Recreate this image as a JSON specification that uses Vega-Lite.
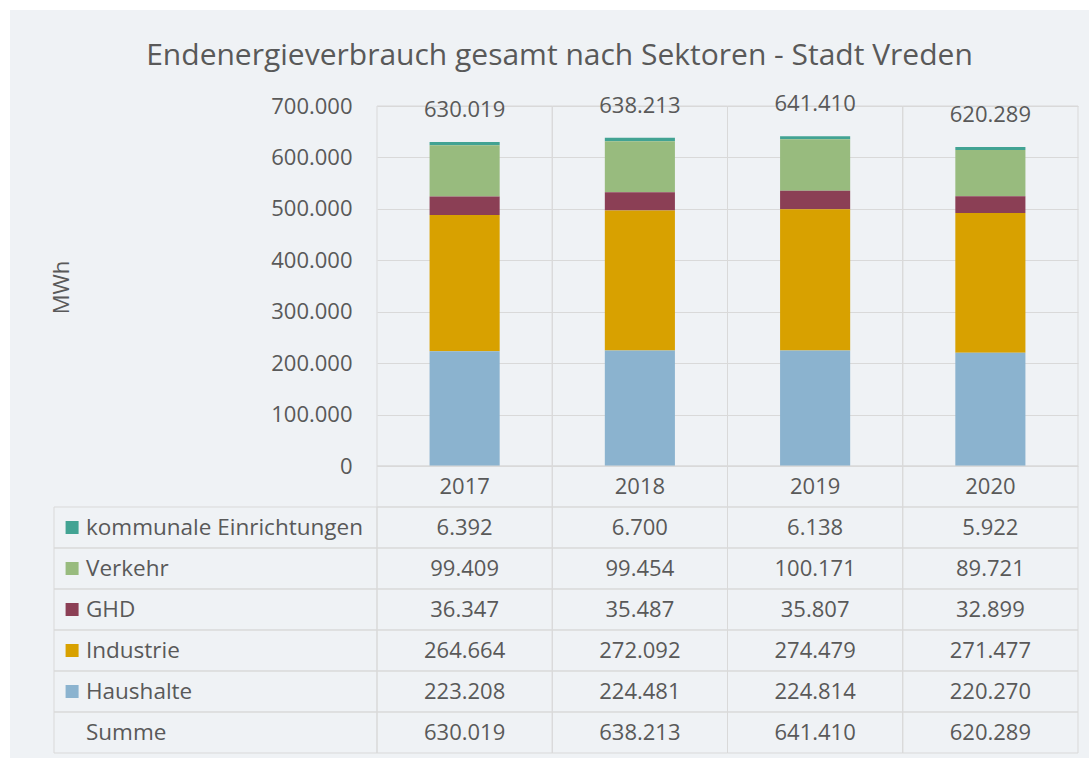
{
  "$schema": "https://vega.github.io/schema/vega-lite/v6.json",
  "width": 1079,
  "height": 748,
  "autosize": {"type": "none"},
  "padding": {"left": 10, "top": 10, "right": 0, "bottom": 0},
  "background": "#ffffff",
  "config": {
    "view": {"fill": "#EFF2F5", "stroke": null},
    "locale": {"number": {"decimal": ",", "thousands": ".", "grouping": [3], "currency": ["", " €"]}},
    "font": "Open Sans",
    "text": {"font": "Open Sans", "fontSize": 22, "color": "#595959"}
  },
  "title": {
    "text": "Endenergieverbrauch gesamt nach Sektoren - Stadt Vreden",
    "font": "Open Sans",
    "fontSize": 30,
    "fontWeight": "normal",
    "color": "#595959",
    "anchor": "middle",
    "baseline": "alphabetic",
    "offset": -85,
    "dx": 10
  },
  "datasets": {
    "sectors": [
      {"year": "2017", "sector": "kommunale Einrichtungen", "value": 6392},
      {"year": "2017", "sector": "Verkehr", "value": 99409},
      {"year": "2017", "sector": "GHD", "value": 36347},
      {"year": "2017", "sector": "Industrie", "value": 264664},
      {"year": "2017", "sector": "Haushalte", "value": 223208},
      {"year": "2018", "sector": "kommunale Einrichtungen", "value": 6700},
      {"year": "2018", "sector": "Verkehr", "value": 99454},
      {"year": "2018", "sector": "GHD", "value": 35487},
      {"year": "2018", "sector": "Industrie", "value": 272092},
      {"year": "2018", "sector": "Haushalte", "value": 224481},
      {"year": "2019", "sector": "kommunale Einrichtungen", "value": 6138},
      {"year": "2019", "sector": "Verkehr", "value": 100171},
      {"year": "2019", "sector": "GHD", "value": 35807},
      {"year": "2019", "sector": "Industrie", "value": 274479},
      {"year": "2019", "sector": "Haushalte", "value": 224814},
      {"year": "2020", "sector": "kommunale Einrichtungen", "value": 5922},
      {"year": "2020", "sector": "Verkehr", "value": 89721},
      {"year": "2020", "sector": "GHD", "value": 32899},
      {"year": "2020", "sector": "Industrie", "value": 271477},
      {"year": "2020", "sector": "Haushalte", "value": 220270}
    ],
    "sectorOrder": [
      {"sector": "Haushalte", "rank": 1},
      {"sector": "Industrie", "rank": 2},
      {"sector": "GHD", "rank": 3},
      {"sector": "Verkehr", "rank": 4},
      {"sector": "kommunale Einrichtungen", "rank": 5}
    ],
    "totals": [
      {"year": "2017", "total": 630019},
      {"year": "2018", "total": 638213},
      {"year": "2019", "total": 641410},
      {"year": "2020", "total": 620289}
    ]
  },
  "layer": [
    {
      "layer": [
        {
          "data": {"name": "totals"},
          "mark": {"type": "rect", "fillOpacity": 0, "stroke": "#D9D9D9", "strokeWidth": 1},
          "encoding": {
            "x": {"field": "year", "type": "nominal", "scale": {"range": [367, 1068], "padding": 0}, "axis": null},
            "y": {"datum": 0, "type": "quantitative"},
            "y2": {"datum": 700000}
          }
        },
        {
          "data": {"name": "sectors"},
          "transform": [
            {"lookup": "sector", "from": {"data": {"name": "sectorOrder"}, "key": "sector", "fields": ["rank"]}}
          ],
          "mark": {"type": "bar", "width": {"band": 0.4}},
          "encoding": {
            "x": {"field": "year", "type": "nominal", "scale": {"range": [367, 1068], "padding": 0}, "axis": null},
            "y": {
              "field": "value",
              "type": "quantitative",
              "stack": "zero",
              "scale": {"domain": [0, 700000], "range": [456, 96], "nice": false},
              "axis": {
                "title": "MWh",
                "values": [0, 100000, 200000, 300000, 400000, 500000, 600000, 700000],
                "format": ",d",
                "offset": -352,
                "ticks": false,
                "domain": false,
                "labelPadding": 10,
                "labelFont": "Open Sans",
                "labelFontSize": 22,
                "labelColor": "#595959",
                "grid": true,
                "gridColor": "#D9D9D9",
                "gridWidth": 1,
                "titleFont": "Open Sans",
                "titleFontSize": 22,
                "titleFontWeight": "normal",
                "titleColor": "#595959",
                "titleX": -301,
                "titleY": 277,
                "titleBaseline": "middle"
              }
            },
            "order": {"field": "rank", "type": "quantitative", "sort": "ascending"},
            "color": {
              "field": "sector",
              "type": "nominal",
              "scale": {
                "domain": ["Haushalte", "Industrie", "GHD", "Verkehr", "kommunale Einrichtungen"],
                "range": ["#8BB3CF", "#D8A100", "#8B3F55", "#98BB7E", "#42A393"]
              },
              "legend": null
            }
          }
        },
        {
          "data": {"name": "totals"},
          "mark": {"type": "text", "dy": -32, "baseline": "middle"},
          "encoding": {
            "x": {"field": "year", "type": "nominal", "scale": {"range": [367, 1068], "padding": 0}, "axis": null},
            "y": {"field": "total", "type": "quantitative"},
            "text": {"field": "total", "type": "quantitative", "format": ",d"}
          }
        }
      ]
    },
    {
      "layer": [
        {
          "data": {"name": "sectors"},
          "mark": {"type": "rect", "fillOpacity": 0, "stroke": "#D9D9D9", "strokeWidth": 1},
          "encoding": {
            "x": {"field": "year", "type": "nominal", "scale": {"range": [367, 1068], "padding": 0}, "axis": null},
            "y": {"field": "sector", "type": "nominal", "scale": {"domain": ["Jahr", "kommunale Einrichtungen", "Verkehr", "GHD", "Industrie", "Haushalte", "Summe"], "range": [456, 743], "padding": 0}, "axis": null}
          }
        },
        {
          "data": {"name": "totals"},
          "mark": {"type": "rect", "fillOpacity": 0, "stroke": "#D9D9D9", "strokeWidth": 1},
          "encoding": {
            "x": {"field": "year", "type": "nominal", "axis": null},
            "y": {"datum": "Jahr", "type": "nominal"}
          }
        },
        {
          "data": {"name": "totals"},
          "mark": {"type": "rect", "fillOpacity": 0, "stroke": "#D9D9D9", "strokeWidth": 1},
          "encoding": {
            "x": {"field": "year", "type": "nominal", "axis": null},
            "y": {"datum": "Summe", "type": "nominal"}
          }
        },
        {
          "data": {"name": "sectors"},
          "mark": {"type": "text", "baseline": "middle"},
          "encoding": {
            "x": {"field": "year", "type": "nominal", "axis": null},
            "y": {"field": "sector", "type": "nominal"},
            "text": {"field": "value", "type": "quantitative", "format": ",d"}
          }
        },
        {
          "data": {"name": "totals"},
          "mark": {"type": "text", "baseline": "middle"},
          "encoding": {
            "x": {"field": "year", "type": "nominal", "axis": null},
            "y": {"datum": "Jahr", "type": "nominal"},
            "text": {"field": "year", "type": "nominal"}
          }
        },
        {
          "data": {"name": "totals"},
          "mark": {"type": "text", "baseline": "middle"},
          "encoding": {
            "x": {"field": "year", "type": "nominal", "axis": null},
            "y": {"datum": "Summe", "type": "nominal"},
            "text": {"field": "total", "type": "quantitative", "format": ",d"}
          }
        }
      ]
    },
    {
      "layer": [
        {
          "data": {"name": "sectors"},
          "transform": [{"filter": "datum.year == '2017'"}],
          "mark": {"type": "rect", "fillOpacity": 0, "stroke": "#D9D9D9", "strokeWidth": 1},
          "encoding": {
            "x": {"datum": "Beschriftung", "type": "nominal", "scale": {"domain": ["Beschriftung"], "range": [44, 367], "padding": 0}, "axis": null},
            "y": {"field": "sector", "type": "nominal", "scale": {"domain": ["Jahr", "kommunale Einrichtungen", "Verkehr", "GHD", "Industrie", "Haushalte", "Summe"], "range": [456, 743], "padding": 0}, "axis": null}
          }
        },
        {
          "data": {"name": "totals"},
          "transform": [{"filter": "datum.year == '2017'"}],
          "mark": {"type": "rect", "fillOpacity": 0, "stroke": "#D9D9D9", "strokeWidth": 1},
          "encoding": {
            "x": {"datum": "Beschriftung", "type": "nominal"},
            "y": {"datum": "Summe", "type": "nominal"}
          }
        },
        {
          "data": {"name": "sectors"},
          "transform": [{"filter": "datum.year == '2017'"}],
          "mark": {"type": "square", "size": 169, "opacity": 1, "filled": true},
          "encoding": {
            "x": {"datum": "Beschriftung", "type": "nominal", "bandPosition": 0.056},
            "y": {"field": "sector", "type": "nominal"},
            "color": {"field": "sector", "type": "nominal", "legend": null}
          }
        },
        {
          "data": {"name": "sectors"},
          "transform": [{"filter": "datum.year == '2017'"}],
          "mark": {"type": "text", "align": "left", "baseline": "middle", "fontSize": 22.5},
          "encoding": {
            "x": {"datum": "Beschriftung", "type": "nominal", "bandPosition": 0.099},
            "y": {"field": "sector", "type": "nominal"},
            "text": {"field": "sector", "type": "nominal"}
          }
        },
        {
          "data": {"name": "totals"},
          "transform": [{"filter": "datum.year == '2017'"}],
          "mark": {"type": "text", "align": "left", "baseline": "middle", "fontSize": 22.5},
          "encoding": {
            "x": {"datum": "Beschriftung", "type": "nominal", "bandPosition": 0.099},
            "y": {"datum": "Summe", "type": "nominal"},
            "text": {"value": "Summe"}
          }
        }
      ]
    }
  ],
  "resolve": {"scale": {"x": "independent", "y": "independent", "color": "shared"}}
}
